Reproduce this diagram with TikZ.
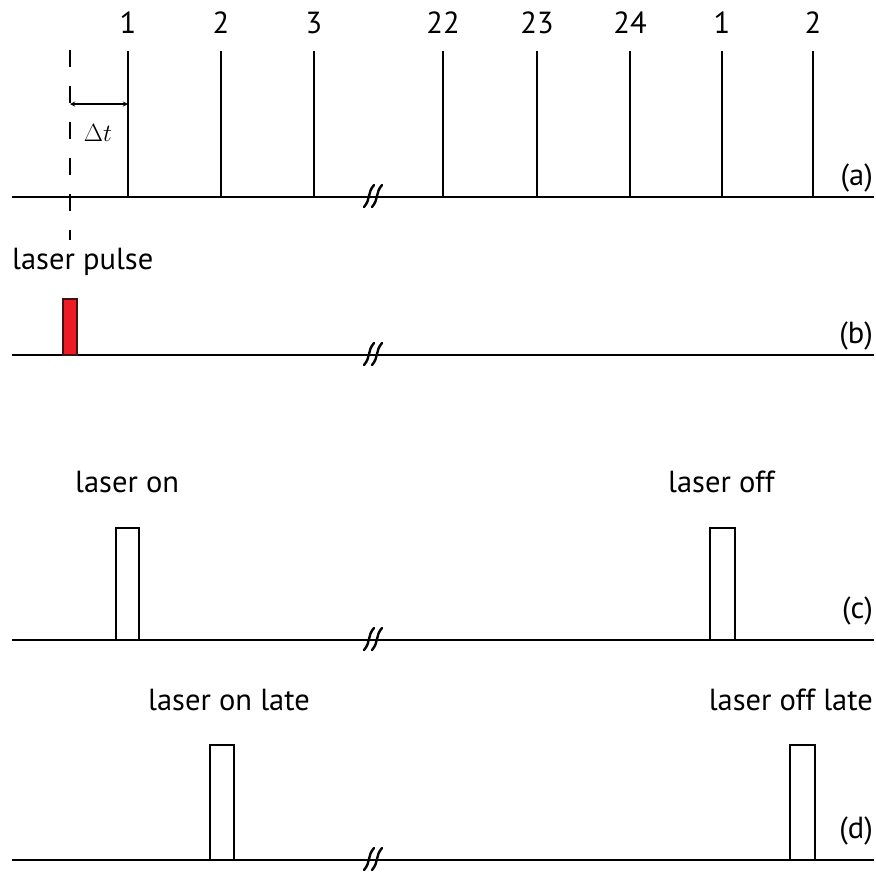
\documentclass[tikz,border=0pt]{standalone}
\usepackage{fontspec}
\setmainfont{PT Sans}
\begin{document}
\begin{tikzpicture}[x=1pt,y=-1pt,
  axis/.style={line width=2.8pt},
  tick/.style={line width=2.6pt},
  gate/.style={line width=2.2pt,fill=white},
  lbl/.style={font=\fontsize{30.5}{36}\selectfont,inner sep=0pt,anchor=base},
  brk/.style={line width=2.4pt,line cap=round}]
\useasboundingbox (0,0) rectangle (876,871);

% horizontal time axes
\foreach \n/\y in {a/197,b/355,c/640,d/860}{
  \coordinate (\n L) at (12,\y);
  \coordinate (\n R) at (874,\y);
  \draw[axis] (\n L) -- (\n R);
  % axis break
  \draw[brk] (364,\y+10) .. controls (371,\y+2) and (367,\y-4) .. (374,\y-12);
  \draw[brk] (372,\y+10) .. controls (379,\y+2) and (375,\y-4) .. (382,\y-12);
}

% (a) clock ticks with their numbers
\foreach \x/\t [count=\i] in {128/1,221/2,314/3,443/22,537/23,630/24,722/1,813/2}{
  \coordinate (t\i) at (\x,51);
  \coordinate (b\i) at (\x,197);
  \draw[tick] (t\i) -- (b\i);
  \node[lbl] (n\i) at (\x,33) {\t};
}
\node[lbl,anchor=base east] (la) at (873,185) {(a)};

% delay marker
\coordinate (dtop) at (70,50);
\coordinate (dbot) at (70,240);
\draw[line width=1.3pt,dash pattern=on 17pt off 19pt] (dtop) -- (dbot);
\coordinate (arrL) at (70,104);
\coordinate (arrR) at (128,104);
\draw[line width=1.3pt,<->,>=stealth] (arrL) -- (arrR);
\node[inner sep=0pt,anchor=base,font=\fontsize{28}{32}\selectfont] (dt) at (98,141) {$\Delta t$};

% (b) laser pulse
\node[lbl,anchor=base west] (lp) at (12,269) {laser pulse};
\draw[line width=1.2pt,fill={rgb,255:red,237;green,28;blue,36},draw={rgb,255:red,60;green,20;blue,20}] (63,299) rectangle (77,355);
\node[lbl,anchor=base east] (lb) at (873,343) {(b)};

% (c) gates
\draw[gate] (116,640) rectangle (139,528);
\draw[gate] (710,640) rectangle (735,528);
\node[lbl,anchor=base west] (on) at (75,492) {laser on};
\node[lbl,anchor=base west] (off) at (668,492) {laser off};
\node[lbl,anchor=base east] (lc) at (873,618) {(c)};

% (d) delayed gates
\draw[gate] (210,860) rectangle (234,745);
\draw[gate] (790,860) rectangle (815,745);
\node[lbl,anchor=base east] (onl) at (310,710) {laser on late};
\node[lbl,anchor=base east] (offl) at (873,710) {laser off late};
\node[lbl,anchor=base east] (ld) at (873,838) {(d)};

% redraw axes over the gate bottoms
\foreach \n in {c,d}{\draw[axis] (\n L) -- (\n R);}
\end{tikzpicture}
\end{document}
